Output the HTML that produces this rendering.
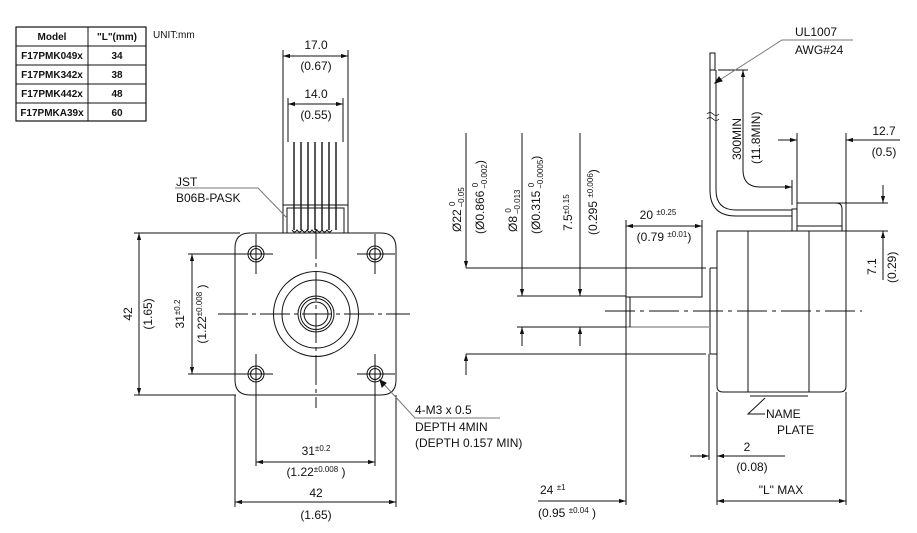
<!DOCTYPE html>
<html><head><meta charset="utf-8"><style>
body{margin:0;background:#fff}
svg{display:block}
text{font-family:"Liberation Sans",sans-serif;font-size:12px;fill:#111}
.t{font-family:"Liberation Sans Narrow","Liberation Sans",sans-serif;font-size:10px;font-weight:bold}
.s{font-size:8px}
</style></head><body>
<svg width="917" height="533" viewBox="0 0 917 533" xmlns="http://www.w3.org/2000/svg">
<defs>
<marker id="a" viewBox="0 0 10 10" refX="10" refY="5" markerWidth="7" markerHeight="7" orient="auto-start-reverse"><path d="M0,2 L10,5 L0,8 z" fill="#111"/></marker>
</defs>
<g stroke="#111" stroke-width="1" fill="none">
<!-- table -->
<rect x="16" y="27" width="130" height="94" stroke-width="1.2"/>
<line x1="88" y1="27" x2="88" y2="121"/>
<line x1="16" y1="46" x2="146" y2="46"/><line x1="16" y1="65" x2="146" y2="65"/><line x1="16" y1="84" x2="146" y2="84"/><line x1="16" y1="103" x2="146" y2="103"/>

<!-- front view -->
<path d="M250,233 H381 Q396,233 396,248 V380 Q396,395 381,395 H250 Q235,395 235,380 V248 Q235,233 250,233 Z"/>
<g>
<circle cx="256" cy="254" r="8"/><circle cx="256" cy="254" r="5.5"/>
<circle cx="375" cy="254" r="8"/><circle cx="375" cy="254" r="5.5"/>
<circle cx="256" cy="374" r="8"/><circle cx="256" cy="374" r="5.5"/>
<circle cx="375" cy="374" r="8"/><circle cx="375" cy="374" r="5.5"/>
</g>
<line x1="256" y1="234" x2="256" y2="274"/><line x1="236" y1="254" x2="273" y2="254"/>
<line x1="375" y1="234" x2="375" y2="274"/><line x1="357" y1="254" x2="395" y2="254"/>
<line x1="256" y1="354" x2="256" y2="394"/><line x1="236" y1="374" x2="273" y2="374"/>
<line x1="375" y1="354" x2="375" y2="394"/><line x1="357" y1="374" x2="395" y2="374"/>
<circle cx="316" cy="314" r="42.5"/><circle cx="316" cy="314" r="34"/>
<circle cx="316" cy="314" r="18"/><circle cx="316" cy="314" r="15.5"/><circle cx="316" cy="314" r="12"/>
<line x1="218" y1="314" x2="410" y2="314" stroke-dasharray="30,4,4,4"/>
<line x1="316" y1="229" x2="316" y2="408" stroke-dasharray="30,4,4,4"/>
<!-- connector -->
<rect x="283" y="205" width="65" height="28"/>
<rect x="287" y="208" width="57" height="25"/>
<path d="M292,230 q2.5,4 5,0 q2.5,4 5,0 q2.5,4 5,0 q2.5,4 5,0 q2.5,4 5,0 q2.5,4 5,0 q2.5,4 5,0 q2.5,4 5,0"/>
<g stroke-width="1.4">
<line x1="294" y1="142" x2="294" y2="230"/><line x1="301" y1="142" x2="301" y2="230"/>
<line x1="308" y1="142" x2="308" y2="230"/><line x1="315" y1="142" x2="315" y2="230"/>
<line x1="322" y1="142" x2="322" y2="230"/><line x1="329" y1="142" x2="329" y2="230"/>
<line x1="336" y1="142" x2="336" y2="230"/>
</g>
<!-- top dims -->
<line x1="283" y1="50" x2="283" y2="205"/><line x1="348" y1="50" x2="348" y2="205"/>
<line x1="288" y1="98" x2="288" y2="142"/><line x1="343" y1="98" x2="343" y2="142"/>
<line x1="283" y1="56" x2="348" y2="56" marker-start="url(#a)" marker-end="url(#a)"/>
<line x1="288" y1="104" x2="343" y2="104" marker-start="url(#a)" marker-end="url(#a)"/>
<!-- JST leader -->
<polyline points="175,188 258,188 287,218" stroke="#777"/>
<!-- left dims -->
<line x1="134" y1="233" x2="240" y2="233"/><line x1="134" y1="395" x2="236" y2="395"/>
<line x1="188" y1="254" x2="250" y2="254"/><line x1="188" y1="374" x2="250" y2="374"/>
<line x1="139" y1="233" x2="139" y2="395" marker-start="url(#a)" marker-end="url(#a)"/>
<line x1="192" y1="254" x2="192" y2="374" marker-start="url(#a)" marker-end="url(#a)"/>
<!-- bottom dims -->
<line x1="256" y1="380" x2="256" y2="466"/><line x1="375" y1="380" x2="375" y2="466"/>
<line x1="235" y1="395" x2="235" y2="507"/><line x1="396" y1="395" x2="396" y2="507"/>
<line x1="256" y1="462" x2="375" y2="462" marker-start="url(#a)" marker-end="url(#a)"/>
<line x1="235" y1="502" x2="396" y2="502" marker-start="url(#a)" marker-end="url(#a)"/>
<polyline points="500,418 415,418 380,380" stroke="#777"/>
<path d="M380,380 l2,7 l4,-4 z" fill="#111"/>

<!-- side view -->
<path d="M717,231 H846 V386 Q846,392 840,392 H723 Q717,392 717,386 Z"/>
<line x1="748" y1="231" x2="748" y2="392"/><line x1="809" y1="231" x2="809" y2="392"/>
<path d="M797,231 V203 H836 Q842,203 842,209 V231"/>
<line x1="797" y1="226" x2="842" y2="226"/>
<rect x="792" y="209" width="5" height="22"/>
<line x1="710" y1="268" x2="710" y2="354"/><line x1="710" y1="268" x2="717" y2="268"/><line x1="710" y1="354" x2="717" y2="354"/>
<path d="M702,220 V297 H626 V327"/>
<line x1="626" y1="327" x2="710" y2="327" stroke="#999" stroke-width="1.4"/>
<line x1="630" y1="297" x2="630" y2="327"/>
<line x1="605" y1="311" x2="862" y2="311" stroke-dasharray="30,5,4,5"/>
<!-- wire -->
<path d="M710,70 V190 Q710,216 736,216 H792"/>
<path d="M716,70 V190 Q716,210 736,210 H792"/>
<rect x="710" y="53" width="5" height="17"/>
<path d="M707,114 q3,-3 6,0 q3,3 6,0 M707,119 q3,-3 6,0 q3,3 6,0" stroke-width="0.8"/>
<!-- 300MIN -->
<line x1="718" y1="70" x2="748" y2="70"/>
<path d="M743,70 V170 Q743,187 760,187 H792" marker-start="url(#a)" marker-end="url(#a)"/>
<line x1="792" y1="180" x2="792" y2="205"/>
<polyline points="853,40 782,40 715,83" stroke="#777"/>
<path d="M715,83 l7,-2 l-3,-4 z" fill="#111"/>
<!-- 12.7 -->
<line x1="797" y1="133" x2="797" y2="203"/><line x1="846" y1="133" x2="846" y2="231"/>
<line x1="778" y1="140" x2="797" y2="140" marker-end="url(#a)"/>
<line x1="900" y1="140" x2="846" y2="140" marker-end="url(#a)"/>
<!-- 7.1 -->
<line x1="836" y1="203" x2="888" y2="203"/><line x1="846" y1="231" x2="888" y2="231"/>
<line x1="883" y1="185" x2="883" y2="203" marker-end="url(#a)"/>
<line x1="883" y1="280" x2="883" y2="231" marker-end="url(#a)"/>
<!-- diameter dims -->
<line x1="466" y1="268" x2="706" y2="268"/><line x1="466" y1="354" x2="706" y2="354"/>
<line x1="517" y1="296" x2="626" y2="296"/><line x1="517" y1="327" x2="626" y2="327"/>
<line x1="466" y1="133" x2="466" y2="268" marker-end="url(#a)"/>
<line x1="466" y1="375" x2="466" y2="354" marker-end="url(#a)"/>
<line x1="522" y1="133" x2="522" y2="296" marker-end="url(#a)"/>
<line x1="522" y1="346" x2="522" y2="327" marker-end="url(#a)"/>
<line x1="580" y1="133" x2="580" y2="296" marker-end="url(#a)"/>
<line x1="580" y1="346" x2="580" y2="327" marker-end="url(#a)"/>
<!-- 20 -->
<line x1="626" y1="220" x2="626" y2="505"/>
<line x1="626" y1="226" x2="702" y2="226" marker-start="url(#a)" marker-end="url(#a)"/>
<!-- bottom right dims -->
<line x1="709" y1="354" x2="709" y2="460"/>
<line x1="717" y1="392" x2="717" y2="505"/><line x1="846" y1="392" x2="846" y2="505"/>
<line x1="690" y1="456" x2="709" y2="456" marker-end="url(#a)"/>
<line x1="785" y1="456" x2="717" y2="456" marker-end="url(#a)"/>
<line x1="538" y1="501" x2="626" y2="501" marker-end="url(#a)"/>
<line x1="717" y1="501" x2="846" y2="501" marker-start="url(#a)" marker-end="url(#a)"/>
<!-- name plate -->
<line x1="750" y1="396" x2="808" y2="396"/>
<polyline points="765,414 748,414 765,398"/>
</g>

<!-- table text -->
<g class="t" text-anchor="middle">
<text class="t" x="52" y="40">Model</text><text class="t" x="117" y="40">"L"(mm)</text>
<text class="t" x="52" y="59">F17PMK049x</text><text class="t" x="117" y="59">34</text>
<text class="t" x="52" y="78">F17PMK342x</text><text class="t" x="117" y="78">38</text>
<text class="t" x="52" y="97">F17PMK442x</text><text class="t" x="117" y="97">48</text>
<text class="t" x="52" y="116">F17PMKA39x</text><text class="t" x="117" y="116">60</text>
</g>
<text class="t" x="153" y="38" style="font-weight:normal">UNIT:mm</text>

<g text-anchor="middle">
<text x="316" y="49">17.0</text><text x="316" y="70">(0.67)</text>
<text x="316" y="98">14.0</text><text x="316" y="119">(0.55)</text>
<text x="316" y="455">31<tspan class="s" dy="-4">±0.2</tspan></text>
<text x="316" y="476">(1.22<tspan class="s" dy="-4">±0.008</tspan><tspan dy="4"> )</tspan></text>
<text x="316" y="497">42</text><text x="316" y="519">(1.65)</text>
<text transform="translate(132,314) rotate(-90)">42</text>
<text transform="translate(152,314) rotate(-90)">(1.65)</text>
<text transform="translate(184,314) rotate(-90)">31<tspan class="s" dy="-4">±0.2</tspan></text>
<text transform="translate(206,314) rotate(-90)">(1.22<tspan class="s" dy="-4">±0.008</tspan><tspan dy="4"> )</tspan></text>
<text x="658" y="219">20 <tspan class="s" dy="-4">±0.25</tspan></text>
<text x="664" y="241">(0.79 <tspan class="s" dy="-4">±0.01</tspan><tspan dy="4">)</tspan></text>
<text x="747" y="451">2</text><text x="752" y="471">(0.08)</text>
<text x="781" y="494">"L" MAX</text>
<text x="884" y="135">12.7</text><text x="884" y="156">(0.5)</text>
</g>
<text x="176" y="186">JST</text><text x="176" y="202">B06B-PASK</text>
<text x="415" y="414">4-M3 x 0.5</text><text x="415" y="431">DEPTH 4MIN</text><text x="415" y="447">(DEPTH 0.157 MIN)</text>
<text x="795" y="36">UL1007</text><text x="795" y="54">AWG#24</text>
<text x="766" y="418">NAME</text><text x="777" y="434">PLATE</text>
<text x="540" y="494">24 <tspan class="s" dy="-4">±1</tspan></text>
<text x="538" y="517">(0.95 <tspan class="s" dy="-4">±0.04</tspan><tspan dy="4"> )</tspan></text>
<text transform="translate(741,160) rotate(-90)">300MIN</text>
<text transform="translate(760,164) rotate(-90)">(11.8MIN)</text>
<text transform="translate(876,275) rotate(-90)">7.1</text>
<text transform="translate(896,283) rotate(-90)">(0.29)</text>
<text transform="translate(461,232) rotate(-90)">Ø22 <tspan class="s" dy="-6">0</tspan><tspan class="s" dx="-6" dy="9">−0.05</tspan></text>
<text transform="translate(484,234) rotate(-90)">(Ø0.866 <tspan class="s" dy="-6">0</tspan><tspan class="s" dx="-6" dy="9">−0.002</tspan><tspan dy="-3">)</tspan></text>
<text transform="translate(517,232) rotate(-90)">Ø8 <tspan class="s" dy="-6">0</tspan><tspan class="s" dx="-6" dy="9">−0.013</tspan></text>
<text transform="translate(540,234) rotate(-90)">(Ø0.315 <tspan class="s" dy="-6">0</tspan><tspan class="s" dx="-6" dy="9">−0.0005</tspan><tspan dy="-3">)</tspan></text>
<text transform="translate(572,231) rotate(-90)">7.5<tspan class="s" dy="-3">±0.15</tspan></text>
<text transform="translate(597,235) rotate(-90)">(0.295 <tspan class="s" dy="-4">±0.006</tspan><tspan dy="4">)</tspan></text>
</svg>
</body></html>
